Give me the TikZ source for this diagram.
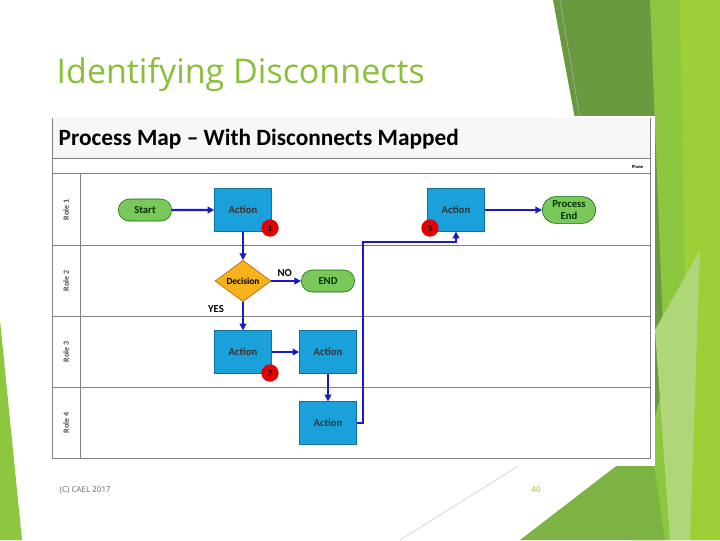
\documentclass[tikz,border=0pt]{standalone}
\usepackage{fontspec}
\setmainfont{Carlito}
\newfontfamily\slidefont{Open Sans}
\usetikzlibrary{shapes.geometric,shapes.misc,arrows.meta}
\definecolor{lg}{HTML}{8DC63F}
\definecolor{dg}{HTML}{6A9A3F}
\definecolor{mg}{HTML}{7CB342}
\definecolor{titleg}{HTML}{8BBE3B}
\definecolor{boxb}{HTML}{1AA0DA}
\definecolor{nodeg}{HTML}{7AC85A}
\definecolor{deco}{HTML}{F5B21B}
\definecolor{arrowb}{HTML}{1A1ACC}
\tikzset{
 act/.style={draw=boxb!70!black,fill=boxb,minimum width=42.75pt,minimum height=32pt,inner sep=0pt,font=\bfseries\fontsize{8}{9}\selectfont,text=black!80},
 term/.style={draw=green!40!black,fill=nodeg,rounded rectangle,minimum width=42pt,minimum height=16.5pt,inner sep=1pt,font=\bfseries\fontsize{8}{9}\selectfont,align=center,text=green!20!black},
 dec/.style={draw=orange!70!black,fill=deco,diamond,aspect=1.35,minimum width=42pt,minimum height=31pt,inner sep=0pt,font=\bfseries\fontsize{7}{8}\selectfont},
 badge/.style={circle,fill=red!90!black,minimum size=13pt,inner sep=0pt,font=\bfseries\fontsize{7}{8}\selectfont},
 flow/.style={draw=arrowb,line width=1.6pt,-{Triangle[length=5pt,width=5pt]}},
 lane/.style={draw=black!50,line width=0.6pt},
 rolet/.style={rotate=90,font=\bfseries\fontsize{6}{7}\selectfont,text=black!70}
}
\begin{document}
\begin{tikzpicture}[x=0.75pt,y=-0.75pt]
\useasboundingbox (0,0) rectangle (720,540);
\fill[white] (0,0) rectangle (720,540);
% decorative background
\fill[lg] (600,0) -- (720,0) -- (720,540) -- (630,540) -- cycle;
\fill[dg] (553,0) -- (650,0) -- (665,380) -- (640,470) -- cycle;
\fill[lg!85!yellow] (680,0) -- (720,0) -- (720,540) -- (690,540) -- cycle;
\fill[mg] (520,540) -- (650,440) -- (665,540) -- cycle;
\fill[lg!70!white] (655,330) -- (700,250) -- (690,540) -- (670,540) -- cycle;
\fill[lg] (0,320) -- (22,540) -- (0,540) -- cycle;
\draw[black!30] (560,0) -- (580,118);
\draw[black!20] (400,540) -- (520,465);
% title and footer
\node[anchor=west,font=\slidefont\fontsize{25.5}{28}\selectfont,text=titleg] (ttl) at (52,75) {Identifying Disconnects};
\node[anchor=west,font=\slidefont\fontsize{6}{7}\selectfont,text=black!60] (ftr) at (55,490) {(C) CAEL 2017};
\node[font=\slidefont\fontsize{6}{7}\selectfont,text=titleg] (pg) at (536,490) {40};
% panel
\fill[white] (48,116) rectangle (655,466);
\fill[black!3] (52,118) rectangle (650,158);
\draw[lane] (52,118) -- (52,458) -- (650,458) -- (650,118);
\draw[lane] (52,158) -- (650,158);
\draw[lane] (52,173) -- (650,173);
\foreach \y in {245,316,387} \draw[lane] (52,\y) -- (650,\y);
\draw[lane] (80,173) -- (80,458);
\node[anchor=west,font=\bfseries\fontsize{17.5}{19}\selectfont] (pm) at (54,139) {Process Map – With Disconnects Mapped};
\node[anchor=east,font=\bfseries\fontsize{3.5}{4}\selectfont] (ph) at (648,167) {Phase};
\node[rolet] (r1) at (66,210) {Role 1};
\node[rolet] (r2) at (66,281) {Role 2};
\node[rolet] (r3) at (66,352) {Role 3};
\node[rolet] (r4) at (66,423) {Role 4};
% nodes
\node[term] (start) at (145,210) {Start};
\node[act] (a1) at (243,210) {Action};
\node[dec] (d) at (243,281) {Decision};
\node[term] (end) at (328,281) {END};
\node[act] (a2) at (243,352) {Action};
\node[act] (a3) at (328,352) {Action};
\node[act] (a4) at (328,423) {Action};
\node[act] (a5) at (456,210) {Action};
\node[term,minimum height=20pt] (pe) at (569,210) {Process\\End};
\node[badge] (b1) at (270,228) {1};
\node[badge] (b2) at (270,373) {2};
\node[badge] (b3) at (430,228) {3};
% connectors
\draw[flow] (start) -- (a1);
\draw[flow] (a1) -- (d);
\draw[flow] (d) -- (end) node[pos=0.45,above=-1pt,font=\bfseries\fontsize{8}{9}\selectfont,text=black] (no) {NO};
\draw[flow] (d) -- (a2);
\node[font=\bfseries\fontsize{8}{9}\selectfont] (yes) at (216,309) {YES};
\draw[flow] (a2) -- (a3);
\draw[flow] (a3) -- (a4);
\coordinate (c1) at (363,423);
\coordinate (c2) at (363,242);
\coordinate (c3) at (456,242);
\draw[flow] (a4.east) -- (c1) -- (c2) -- (c3) -- (a5.south);
\draw[flow] (a5) -- (pe);
\end{tikzpicture}
\end{document}
